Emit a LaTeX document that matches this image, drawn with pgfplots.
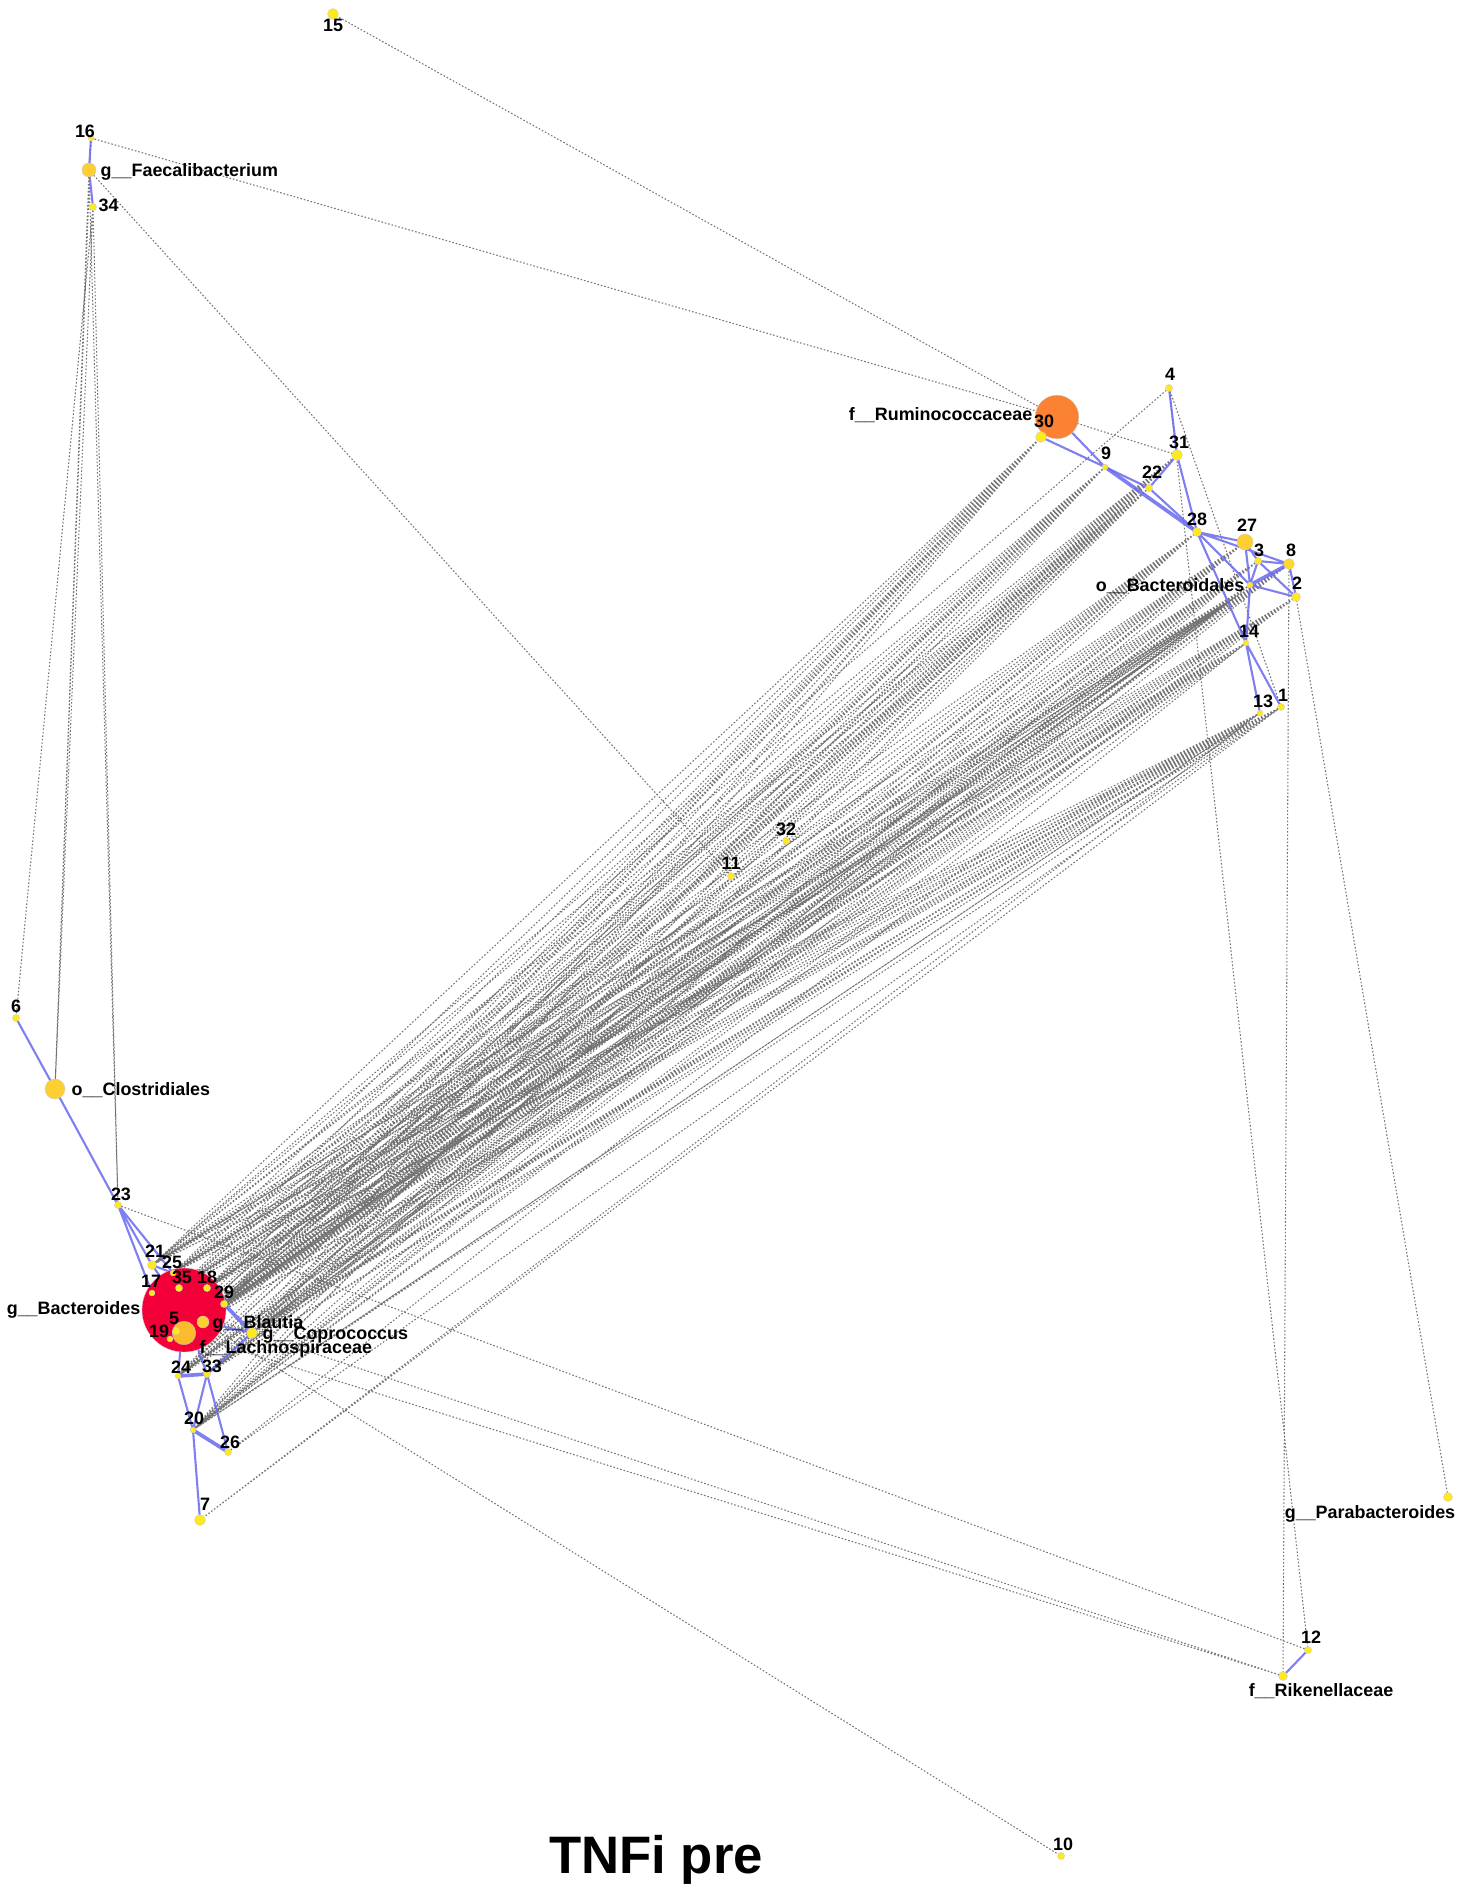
\documentclass[border=0pt]{standalone}
\usepackage{fontspec}
\setmainfont{Liberation Sans}
\usepackage{pgfplots}
\pgfplotsset{compat=1.18}

\definecolor{nodeyellow}{RGB}{255,233,30}
\definecolor{nodegold}{RGB}{253,207,50}
\definecolor{nodelach}{RGB}{250,188,45}
\definecolor{noderumi}{RGB}{250,130,50}
\definecolor{nodebact}{RGB}{242,0,55}
\definecolor{edgeblue}{RGB}{105,105,240}

\tikzset{lbl/.style={font=\bfseries\fontsize{5.1}{5.5}\selectfont, inner sep=0pt}}

% node positions in image pixels (y grows downwards)
\foreach \n/\x/\y in {1/1281/707,2/1296/597,3/1258/561,4/1169/388,5/176/1331,6/16/1018,
7/200/1520,8/1289/564,9/1105/467,10/1061/1856,11/731/876,12/1308/1650,13/1260/713,
14/1246/643,15/333/14,16/91/138,17/152/1293,18/207/1288,19/170/1339,20/193/1430,
21/152/1265,22/1149/488,23/118/1205,24/178/1376,25/173/1273,26/228/1452,27/1245/542,
28/1197/532,29/224/1304,30/1041/437,31/1177/455,32/786/841,33/207/1374,34/93/207,
35/179/1288,Fa/89/170,Cl/55/1089,Ru/1057/417,Bc/184/1310,Bl/203/1322,La/184/1333,
Co/252/1333,OB/1250/585,Pa/1448/1497,Rk/1283/1676}{\expandafter\xdef\csname nd\n\endcsname{\x,\y}}

\newcommand\addedges[2]{\foreach \a/\b in {#2}{\xdef#1{#1 (\csname nd\a\endcsname) (\csname nd\b\endcsname) (nan,nan)}}}
\newcommand\nodelist[2]{\gdef#1{}\foreach \a in {#2}{\xdef#1{#1 (\csname nd\a\endcsname)}}}
\newcommand\plotlist[2]{\edef\tmp{\noexpand\addplot[#1] coordinates {#2};}\tmp}

% dotted (negative) edges
\gdef\grayedges{}
\addedges\grayedges{15/Ru,16/Ru,Fa/11,34/6,34/Cl,Fa/Cl,16/Cl,34/23,Fa/23,Ru/31,4/21,4/1,4/12,8/Rk,2/Pa,23/12,Bc/Rk,Bc/10,La/Rk,7/13,7/1,26/1,26/14,20/13}
\foreach \u in {30,9,22,31,28,27,3,OB,14,13,1,8,2}{\foreach \l in {21,25,35,18,29,5,Bl,La,Co,33,24,20}{\xdef\grayedges{\grayedges (\csname nd\u\endcsname) (\csname nd\l\endcsname) (nan,nan)}}}

% solid (positive) edges
\gdef\blueedges{}
\addedges\blueedges{30/9,Ru/9,9/22,22/31,22/28,31/28,4/31,28/27,28/8,28/OB,28/14,27/3,27/OB,3/8,3/OB,3/2,8/2,OB/2,OB/14,14/13,14/1,Fa/16,Fa/34,6/Cl,Cl/23,23/21,23/17,23/25,21/25,21/Bc,Bc/24,Bc/33,24/20,33/20,33/26,20/7,Co/33,12/Rk,Bl/Co}
\gdef\bluethick{}
\addedges\bluethick{9/28,8/OB,24/33,20/26,29/Co}

% node groups by size
\nodelist\nodesA{9,13,14,16,17,19,20,24,25,OB}
\nodelist\nodesB{1,3,4,5,6,10,11,12,18,22,23,26,29,32,33,34,35}
\nodelist\nodesC{2,21,28,Pa,Rk}
\nodelist\nodesD{7,15,30,31,Co}

\begin{document}
\begin{tikzpicture}
\begin{axis}[
    scale only axis,
    width=14.71cm, height=18.94cm,
    xmin=0, xmax=1471, ymin=0, ymax=1894,
    y dir=reverse,
    hide axis,
    clip=false,
    clip marker paths=true,
    unbounded coords=jump,
    grayedge/.style={draw=black!55, line width=0.3pt, dash pattern=on 0.45pt off 0.55pt, mark=none},
    blueedge/.style={draw=edgeblue, draw opacity=0.85, line width=0.6pt, mark=none},
    dot/.style={only marks, mark=*, mark options={draw=black!20, line width=0.1pt}},
]
\addplot[draw=none, mark=none, forget plot] coordinates {(0,0) (1471,1894)};

\plotlist{grayedge}{\grayedges}
\plotlist{blueedge}{\blueedges}
\plotlist{blueedge, line width=1.05pt}{\bluethick}

% large nodes
\addplot[dot, mark size=11.95pt, fill=nodebact] coordinates {(184,1310)};
\addplot[dot, mark size=6.2pt, fill=noderumi] coordinates {(1057,417)};
\addplot[dot, mark size=3.35pt, fill=nodelach] coordinates {(184,1333)};
\addplot[dot, mark size=2.85pt, fill=nodegold] coordinates {(55,1089)};
\addplot[dot, mark size=2.28pt, fill=nodegold] coordinates {(1245,542)};
\addplot[dot, mark size=2.0pt, fill=nodegold] coordinates {(89,170)};
\addplot[dot, mark size=1.7pt, fill=nodegold] coordinates {(203,1322)};
\addplot[dot, mark size=1.56pt, fill=nodegold!60!nodeyellow] coordinates {(1289,564)};
% small nodes
\plotlist{dot, mark size=1.56pt, fill=nodeyellow}{\nodesD}
\plotlist{dot, mark size=1.28pt, fill=nodeyellow}{\nodesC}
\plotlist{dot, mark size=1.02pt, fill=nodeyellow}{\nodesB}
\plotlist{dot, mark size=0.85pt, fill=nodeyellow}{\nodesA}

% number labels
\node[lbl, anchor=base] at (axis cs:1283,701) {1};
\node[lbl, anchor=base] at (axis cs:1297,589) {2};
\node[lbl, anchor=base] at (axis cs:1259,556) {3};
\node[lbl, anchor=base] at (axis cs:1170,381) {4};
\node[lbl, anchor=base] at (axis cs:174,1324) {5};
\node[lbl, anchor=base] at (axis cs:16,1012) {6};
\node[lbl, anchor=base] at (axis cs:205,1510) {7};
\node[lbl, anchor=base] at (axis cs:1291,556) {8};
\node[lbl, anchor=base] at (axis cs:1106,460) {9};
\node[lbl, anchor=base] at (axis cs:1063,1850) {10};
\node[lbl, anchor=base] at (axis cs:731,869) {11};
\node[lbl, anchor=base] at (axis cs:1311,1643) {12};
\node[lbl, anchor=base] at (axis cs:1263,707) {13};
\node[lbl, anchor=base] at (axis cs:1249,637) {14};
\node[lbl, anchor=base] at (axis cs:333,32) {15};
\node[lbl, anchor=base] at (axis cs:85,138) {16};
\node[lbl, anchor=base] at (axis cs:151,1287) {17};
\node[lbl, anchor=base] at (axis cs:207,1283) {18};
\node[lbl, anchor=base] at (axis cs:159,1337) {19};
\node[lbl, anchor=base] at (axis cs:194,1424) {20};
\node[lbl, anchor=base] at (axis cs:155,1257) {21};
\node[lbl, anchor=base] at (axis cs:1152,479) {22};
\node[lbl, anchor=base] at (axis cs:121,1200) {23};
\node[lbl, anchor=base] at (axis cs:181,1373) {24};
\node[lbl, anchor=base] at (axis cs:172,1268) {25};
\node[lbl, anchor=base] at (axis cs:230,1448) {26};
\node[lbl, anchor=base] at (axis cs:1247,531) {27};
\node[lbl, anchor=base] at (axis cs:1197,525) {28};
\node[lbl, anchor=base] at (axis cs:224,1298) {29};
\node[lbl, anchor=base] at (axis cs:1044,427) {30};
\node[lbl, anchor=base] at (axis cs:1179,449) {31};
\node[lbl, anchor=base] at (axis cs:786,835) {32};
\node[lbl, anchor=base] at (axis cs:212,1372) {33};
\node[lbl, anchor=base west] at (axis cs:98,212) {34};
\node[lbl, anchor=base] at (axis cs:182,1283) {35};
% taxon labels
\node[lbl, anchor=base west] at (axis cs:100,177) {g\_\_Faecalibacterium};
\node[lbl, anchor=base west] at (axis cs:71,1095) {o\_\_Clostridiales};
\node[lbl, anchor=base east] at (axis cs:141,1314) {g\_\_Bacteroides};
\node[lbl, anchor=base west] at (axis cs:212,1328) {g\_\_Blautia};
\node[lbl, anchor=base west] at (axis cs:262,1339) {g\_\_Coprococcus};
\node[lbl, anchor=base west] at (axis cs:199,1353) {f\_\_Lachnospiraceae};
\node[lbl, anchor=base east] at (axis cs:1033,421) {f\_\_Ruminococcaceae};
\node[lbl, anchor=base east] at (axis cs:1245,591) {o\_\_Bacteroidales};
\node[lbl, anchor=base] at (axis cs:1321,1696) {f\_\_Rikenellaceae};
\node[lbl, anchor=base] at (axis cs:1370,1518) {g\_\_Parabacteroides};
% title
\node[font=\bfseries\fontsize{15}{17}\selectfont, inner sep=0pt, anchor=base] at (axis cs:656,1873) {TNFi pre};
\end{axis}
\end{tikzpicture}
\end{document}
